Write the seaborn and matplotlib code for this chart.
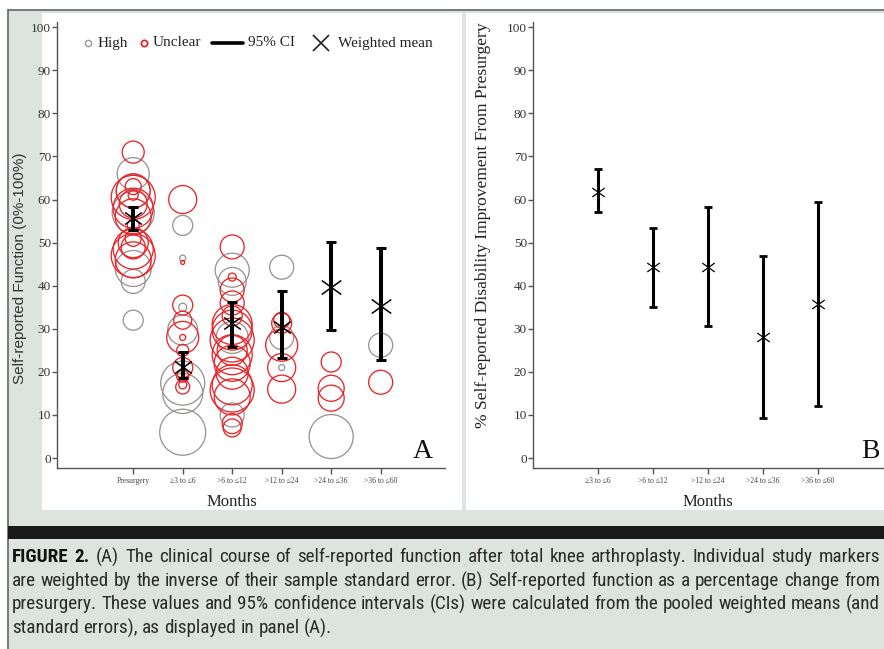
import numpy as np
import pandas as pd
import matplotlib
matplotlib.use("Agg")
import matplotlib.pyplot as plt
from matplotlib.lines import Line2D
from matplotlib.patches import Rectangle
from matplotlib.path import Path
from matplotlib import font_manager
import seaborn as sns

W, H = 884, 649

# ---------------- data ----------------
months_a = ["Presurgery", "≥3 to ≤6", ">6 to ≤12", ">12 to ≤24", ">24 to ≤36", ">36 to ≤60"]
months_b = months_a[1:]

# individual studies, high risk of bias (grey): period index, score, inverse SE weight
high_period = [0, 0, 0, 0, 0, 0,
               1, 1, 1, 1, 1, 1, 1,
               2, 2, 2, 2,
               3, 3, 3,
               4,
               5]
high_score = [66, 44, 41, 32, 57, 62,
              54, 46.4, 35, 29.7, 17.4, 15, 6,
              43.6, 41, 10, 28,
              44.3, 28, 21,
              5,
              26.2]
high_weight = [16, 18, 12, 10, 21, 17,
               10, 3, 4, 15, 22, 20, 23,
               17, 14, 12, 16,
               12, 12, 3,
               22,
               12]

# individual studies, unclear risk of bias (red)
unclear_period = [0] * 15 + [1] * 11 + [2] * 17 + [3] * 5 + [4] * 3 + [5]
unclear_score = [71, 62, 60.5, 59, 58, 61, 63, 56, 54, 51, 50, 48.5, 47, 46, 49,
                 60, 45.4, 35.5, 32, 28, 28, 25, 21, 19, 16.5, 17,
                 49, 42, 39, 36, 33, 31, 29.7, 27.4, 25, 24, 22, 19.7, 17, 15.8, 14.2, 8, 7,
                 32, 31.3, 26.2, 21, 16,
                 22.3, 16.2, 13.9,
                 17.6]
unclear_weight = [11, 17, 22, 14, 20, 5, 8, 18, 6, 8, 15, 20, 22, 18, 12,
                  14, 2, 10, 9, 16, 3, 6, 10, 6, 7, 4,
                  12, 4, 12, 12, 10, 20, 20, 22, 15, 20, 18, 16, 20, 22, 18, 10, 9,
                  8, 10, 16, 14, 14,
                  10, 13, 13,
                  12]

# pooled weighted means and 95% CI
mean_a = [55.7, 21.1, 31.3, 30.4, 39.7, 35.3]
ci_low_a = [52.9, 18.5, 25.8, 23.2, 29.7, 22.7]
ci_high_a = [58.2, 24.6, 36.2, 38.7, 50.1, 48.7]

mean_b = [61.7, 44.3, 44.3, 28.1, 35.7]
ci_low_b = [57.1, 35.0, 30.6, 9.3, 12.1]
ci_high_b = [67.1, 53.4, 58.2, 46.9, 59.4]

caption_lines = [
    "FIGURE 2. (A) The clinical course of self-reported function after total knee arthroplasty. Individual study markers",
    "are weighted by the inverse of their sample standard error. (B) Self-reported function as a percentage change from",
    "presurgery. These values and 95% confidence intervals (CIs) were calculated from the pooled weighted means (and",
    "standard errors), as displayed in panel (A).",
]

# ---------------- style ----------------
sns.set_style("ticks")
serif = ["Liberation Serif", "DejaVu Serif"]
plt.rcParams["font.family"] = serif

names = {f.name for f in font_manager.fontManager.ttflist}
cap_font = next((n for n in ["Liberation Sans Narrow", "Roboto Condensed", "Open Sans Condensed",
                             "Noto Sans", "Liberation Sans"] if n in names), "DejaVu Sans")

RED = "#e8262a"
GREY = "#9a9593"
AX = "#555555"
BG = "#dde4e0"

fig = plt.figure(figsize=(W / 100, H / 100), dpi=100)
fig.patch.set_facecolor("white")


def fx(x):
    return x / W


def fy(y):
    return 1 - y / H


# background, frame and white panels
fig.add_artist(Rectangle((fx(8), 0), 1 - fx(8), fy(10), transform=fig.transFigure,
                         facecolor=BG, edgecolor="none", zorder=-3))
fig.add_artist(Line2D([fx(8), 1], [fy(10), fy(10)], transform=fig.transFigure, color="#666", lw=1.2, zorder=-2))
fig.add_artist(Line2D([fx(8), fx(8)], [fy(10), 0], transform=fig.transFigure, color="#666", lw=1.2, zorder=-2))
fig.add_artist(Rectangle((fx(42), fy(510)), fx(462) - fx(42), fy(13) - fy(510), transform=fig.transFigure,
                         facecolor="white", edgecolor="none", zorder=-2))
fig.add_artist(Rectangle((fx(466), fy(510)), 1 - fx(466), fy(13) - fy(510), transform=fig.transFigure,
                         facecolor="white", edgecolor="none", zorder=-2))
fig.add_artist(Rectangle((fx(8), fy(539)), 1 - fx(8), fy(526) - fy(539), transform=fig.transFigure,
                         facecolor="#1a1a1a", edgecolor="none", zorder=-1))

axA = fig.add_axes([fx(57), fy(468), fx(445) - fx(57), fy(22) - fy(468)])
axB = fig.add_axes([fx(533), fy(468), 1 - fx(533), fy(22) - fy(468)])

# flattened X marker (wider than tall)
xmark = Path([(-1, -0.72), (1, 0.72), (-1, 0.72), (1, -0.72)],
             [Path.MOVETO, Path.LINETO, Path.MOVETO, Path.LINETO])

# ---------------- panel A ----------------
studies = pd.DataFrame({
    "period": high_period + unclear_period,
    "score": high_score + unclear_score,
    "weight": high_weight + unclear_weight,
    "risk": ["High"] * len(high_period) + ["Unclear"] * len(unclear_period),
})
studies["area"] = (1.44 * studies["weight"]) ** 2
amin, amax = studies["area"].min(), studies["area"].max()

sns.scatterplot(data=studies, x="period", y="score", hue="risk",
                palette={"High": GREY, "Unclear": RED},
                size="area", sizes=(amin, amax), size_norm=(amin, amax),
                linewidth=0.95, legend=False, ax=axA, zorder=2)
for coll in axA.collections:
    fc = coll.get_facecolors()
    coll.set_edgecolors(fc)
    coll.set_facecolors("none")

xa = np.arange(len(months_a))
axA.errorbar(xa, mean_a, yerr=[np.subtract(mean_a, ci_low_a), np.subtract(ci_high_a, mean_a)],
             fmt="none", ecolor="black", elinewidth=2.9, capsize=3.6, capthick=2.2, zorder=4)
axA.plot(xa[:4], mean_a[:4], ls="none", marker=xmark, ms=12, mew=1.1, color="black", zorder=5)
axA.plot(xa[4:], mean_a[4:], ls="none", marker=xmark, ms=14, mew=1.1, color="black", zorder=5)

axA.set_xlim(-1.54, 6.3)
axA.set_ylim(-2.3, 101.2)
axA.set_xticks(xa)
axA.set_xticklabels(months_a)
axA.set_xlabel("")
axA.set_ylabel("")

# ---------------- panel B ----------------
xb = np.arange(len(months_b))
axB.errorbar(xb, mean_b, yerr=[np.subtract(mean_b, ci_low_b), np.subtract(ci_high_b, mean_b)],
             fmt="none", ecolor="black", elinewidth=2.2, capsize=2.9, capthick=2.0, zorder=4)
sns.scatterplot(x=xb, y=mean_b, marker=xmark, s=80, color="black", edgecolor="black",
                linewidth=0.9, ax=axB, zorder=5)
axB.set_xlim(-1.18, 5.2)
axB.set_ylim(-2.3, 101.2)
axB.set_xticks(xb)
axB.set_xticklabels(months_b)

for ax in (axA, axB):
    ax.set_facecolor("none")
    sns.despine(ax=ax)
    for s in ("left", "bottom"):
        ax.spines[s].set_color(AX)
        ax.spines[s].set_linewidth(1.0)
    ax.set_yticks(range(0, 101, 10))
    ax.tick_params(axis="y", length=3.6, width=1.0, color=AX, labelsize=9.5, labelcolor="#333", pad=0.8)
    ax.tick_params(axis="x", length=4.0, width=1.0, color=AX, labelsize=5.5, labelcolor="#444", pad=2.5)

# axis titles & panel letters
fig.text(fx(232), fy(502), "Months", ha="center", va="center", fontsize=12, color="#222")
fig.text(fx(708), fy(502), "Months", ha="center", va="center", fontsize=12, color="#222")
fig.text(fx(423), fy(452), "A", ha="center", va="center", fontsize=20, color="#111")
fig.text(fx(870), fy(452), "B", ha="center", va="center", fontsize=20, color="#111")
fig.text(fx(20), fy(268), "Self-reported Function (0%-100%)", rotation=90, ha="center", va="center",
         fontsize=11, family=["Liberation Sans", "DejaVu Sans"], color="#333")
fig.text(fx(483), fy(225), "% Self-reported Disability Improvement From Presurgery", rotation=90,
         ha="center", va="center", fontsize=12.6, color="#222")

# legend (panel A)
ly = fy(43)
fig.add_artist(Line2D([fx(88)], [ly], transform=fig.transFigure, marker="o", ms=4.5, mfc="none",
                      mec=GREY, mew=1.0, ls="none"))
fig.add_artist(Line2D([fx(144)], [ly], transform=fig.transFigure, marker="o", ms=4.5, mfc="none",
                      mec=RED, mew=1.3, ls="none"))
fig.add_artist(Line2D([fx(212), fx(243)], [ly, ly], transform=fig.transFigure, color="black", lw=2.6))
fig.add_artist(Line2D([fx(321)], [ly], transform=fig.transFigure, marker="x", ms=11.5, mew=1.2,
                      color="#222", ls="none"))
for x0, label in [(98, "High"), (153, "Unclear"), (248, "95% CI"), (338, "Weighted mean")]:
    fig.text(fx(x0), ly, label, ha="left", va="center", fontsize=11, color="#222")

# ---------------- caption (justified) ----------------
renderer = fig.canvas.get_renderer()
left, right = 12, 880
cap_size = 12.6
line_y = [557, 581, 604, 628]


def words_of(line):
    out = []
    for i, w in enumerate(line.split(" ")):
        bold = line.startswith("FIGURE") and i < 2
        out.append((w, bold))
    return out


def text_width(s, size, bold=False):
    t = fig.text(0, 0, s, fontsize=size, family=[cap_font, "DejaVu Sans"],
                 weight="bold" if bold else "normal")
    w = t.get_window_extent(renderer).width
    t.remove()
    return w


sp_w = text_width("a a", cap_size) - text_width("aa", cap_size)
natural = []
for line in caption_lines:
    ws = words_of(line)
    natural.append(sum(text_width(w, cap_size, b) for w, b in ws) + sp_w * (len(ws) - 1))
scale = (right - left) / max(natural)
cap_size *= scale
sp_w *= scale

for k, line in enumerate(caption_lines):
    ws = words_of(line)
    texts = [fig.text(0, fy(line_y[k]), w, fontsize=cap_size, family=[cap_font, "DejaVu Sans"],
                      weight="bold" if b else "normal", color="#111" if b else "#2b2b2b",
                      va="center", ha="left") for w, b in ws]
    widths = [t.get_window_extent(renderer).width for t in texts]
    if k < len(caption_lines) - 1:
        gap = (right - left - sum(widths)) / (len(ws) - 1)
    else:
        gap = sp_w
    x = left
    for t, w in zip(texts, widths):
        t.set_x(fx(x))
        x += w + gap

fig.savefig("out.png", dpi=100, facecolor=fig.get_facecolor())
